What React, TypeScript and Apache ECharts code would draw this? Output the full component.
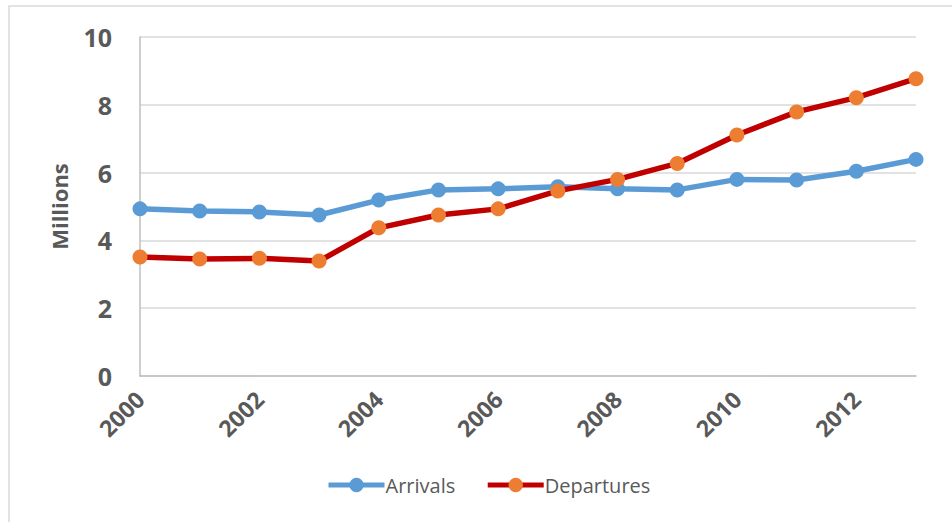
import React, { useEffect, useRef } from "react";
import * as echarts from "echarts";

const years = ["2000","2001","2002","2003","2004","2005","2006","2007","2008","2009","2010","2011","2012","2013"];
const arrivals = [4.93, 4.87, 4.84, 4.75, 5.19, 5.49, 5.52, 5.58, 5.52, 5.49, 5.80, 5.78, 6.04, 6.39];
const departures = [3.51, 3.45, 3.47, 3.39, 4.37, 4.75, 4.93, 5.46, 5.80, 6.27, 7.11, 7.79, 8.21, 8.77];

const FONT = "'Open Sans', 'Noto Sans', sans-serif";

export default function App() {
  const ref = useRef<HTMLDivElement>(null);
  useEffect(() => {
    if (!ref.current) return;
    const chart = echarts.init(ref.current, null, { renderer: "svg" });
    chart.setOption({
      animation: false,
      backgroundColor: "#ffffff",
      graphic: [
        {
          type: "rect",
          shape: { x: 9, y: 6, width: 960, height: 540 },
          style: { fill: "none", stroke: "#D9D9D9", lineWidth: 1.5 },
          silent: true,
          z: -1,
        },
      ],
      grid: { left: 140, right: 36, top: 37, bottom: 146, containLabel: false },
      legend: {
        bottom: 22,
        left: 321,
        itemWidth: 56,
        itemHeight: 18,
        itemGap: 30,
        lineStyle: { width: 5 },
        textStyle: { fontFamily: FONT, fontSize: 20, color: "#595959", padding: [0, 0, 0, -4] },
        data: ["Arrivals", "Departures"],
      },
      xAxis: {
        type: "category",
        data: years,
        boundaryGap: false,
        axisLine: { lineStyle: { color: "#BFBFBF", width: 1.5 } },
        axisTick: { show: false },
        axisLabel: {
          interval: 1,
          rotate: 45,
          margin: 19,
          fontFamily: FONT,
          fontWeight: "bold",
          fontSize: 23,
          color: "#595959",
        },
        splitLine: { show: false },
      },
      yAxis: {
        type: "value",
        min: 0,
        max: 10,
        interval: 2,
        name: "Millions",
        nameLocation: "middle",
        nameGap: 70,
        nameTextStyle: { fontFamily: FONT, fontWeight: "bold", fontSize: 22, color: "#595959" },
        axisLine: { show: true, lineStyle: { color: "#BFBFBF", width: 1.5 } },
        axisTick: { show: false },
        axisLabel: {
          margin: 28,
          fontFamily: FONT,
          fontWeight: "bold",
          fontSize: 25,
          color: "#595959",
        },
        splitLine: { lineStyle: { color: "#D9D9D9", width: 1.5 } },
      },
      series: [
        {
          name: "Arrivals",
          type: "line",
          data: arrivals,
          symbol: "circle",
          symbolSize: 15,
          lineStyle: { color: "#5B9BD5", width: 5.5 },
          itemStyle: { color: "#5B9BD5" },
          z: 2,
        },
        {
          name: "Departures",
          type: "line",
          data: departures,
          symbol: "circle",
          symbolSize: 15,
          lineStyle: { color: "#C00000", width: 5.5 },
          itemStyle: { color: "#ED7D31" },
          z: 3,
        },
      ],
    });
    return () => chart.dispose();
  }, []);
  return (
    <div
      ref={ref}
      style={{ position: "fixed", left: 0, top: 0, width: 952, height: 522, background: "#fff" }}
    />
  );
}
